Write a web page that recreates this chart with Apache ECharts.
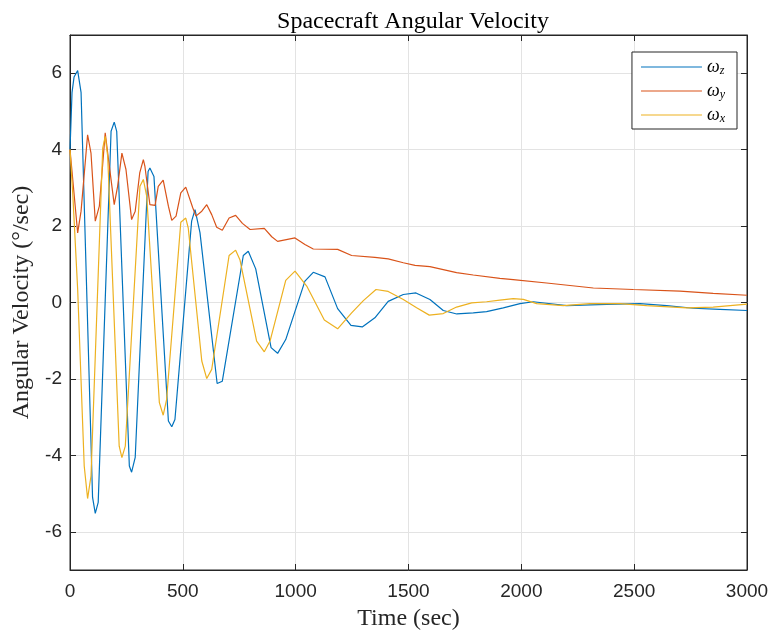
<!DOCTYPE html>
<html>
<head>
<meta charset="utf-8">
<script src="https://cdn.jsdelivr.net/npm/echarts@6/dist/echarts.min.js"></script>
<style>
  html, body { margin: 0; padding: 0; background: #fff; }
  #chart { width: 774px; height: 637px; }
</style>
</head>
<body>
<div id="chart"></div>
<script>
// time stamps (sec) and angular rates (deg/sec)
const timeZ = [0, 9, 18, 34, 49, 100, 112, 125, 182, 196, 207, 263, 273, 289, 346, 354, 372, 436, 451, 465, 539, 554, 576, 652, 675, 768, 790, 823, 891, 920, 956, 1041, 1078, 1130, 1186, 1245, 1295, 1351, 1410, 1477, 1533, 1595, 1654, 1714, 1787, 1846, 1920, 1994, 2053, 2201, 2378, 2526, 2644, 2762, 2880, 3000]
const omegaZ = [4.0, 5.5, 5.9, 6.07, 5.5, -5.1, -5.52, -5.23, 4.48, 4.72, 4.48, -4.28, -4.44, -4.05, 3.43, 3.52, 3.30, -3.10, -3.25, -3.06, 2.13, 2.43, 1.83, -2.12, -2.06, 1.23, 1.34, 0.88, -1.18, -1.33, -0.97, 0.56, 0.79, 0.67, -0.16, -0.60, -0.64, -0.40, 0.03, 0.21, 0.25, 0.08, -0.21, -0.30, -0.27, -0.24, -0.14, -0.03, 0.02, -0.08, -0.05, -0.03, -0.08, -0.15, -0.18, -0.21]

const timeY = [0, 34, 49, 78, 93, 112, 130, 156, 167, 196, 211, 230, 248, 273, 289, 309, 325, 332, 354, 377, 391, 413, 436, 451, 470, 491, 513, 544, 558, 584, 606, 628, 650, 675, 705, 734, 764, 798, 861, 894, 920, 997, 1041, 1078, 1186, 1248, 1351, 1410, 1477, 1529, 1595, 1713, 1787, 1905, 1964, 2112, 2319, 2496, 2703, 2850, 3000]
const omegaY = [4.0, 1.82, 2.39, 4.39, 3.91, 2.13, 2.52, 4.44, 3.91, 2.56, 3.04, 3.91, 3.48, 2.17, 2.39, 3.39, 3.74, 3.56, 2.56, 2.54, 3.04, 3.20, 2.52, 2.15, 2.26, 2.87, 3.02, 2.48, 2.26, 2.39, 2.56, 2.30, 1.97, 1.89, 2.21, 2.28, 2.07, 1.91, 1.94, 1.72, 1.60, 1.69, 1.52, 1.40, 1.39, 1.23, 1.18, 1.14, 1.04, 0.97, 0.94, 0.78, 0.72, 0.63, 0.60, 0.51, 0.38, 0.34, 0.30, 0.24, 0.19]

const timeX = [0, 12, 34, 63, 78, 93, 145, 156, 167, 218, 230, 245, 310, 325, 340, 396, 413, 428, 491, 513, 524, 584, 606, 628, 705, 734, 753, 827, 861, 887, 956, 997, 1049, 1127, 1186, 1248, 1300, 1356, 1410, 1477, 1536, 1592, 1654, 1713, 1780, 1846, 1905, 1964, 2009, 2068, 2186, 2304, 2437, 2555, 2733, 2850, 3000]
const omegaX = [4.0, 2.87, 0.34, -4.28, -5.13, -4.54, 4.04, 4.35, 3.83, -3.76, -4.06, -3.76, 3.04, 3.22, 2.78, -2.62, -2.95, -2.54, 2.10, 2.21, 1.95, -1.53, -1.99, -1.75, 1.23, 1.37, 1.12, -1.01, -1.29, -1.0, 0.58, 0.82, 0.43, -0.46, -0.69, -0.27, 0.05, 0.34, 0.29, 0.08, -0.14, -0.33, -0.29, -0.12, -0.01, 0.02, 0.06, 0.10, 0.08, -0.03, -0.08, -0.03, -0.03, -0.08, -0.14, -0.12, -0.04]

const seriesNames = ['ωz', 'ωy', 'ωx']
const yTicks = [-6, -4, -2, 0, 2, 4, 6]

const chart = echarts.init(document.getElementById('chart'))

function pairs (t, v) {
  return t.map((x, i) => [x, v[i]])
}

const axisColor = '#262626'
const gridColor = '#e3e3e3'
const serif = 'Liberation Serif'
const sans = 'Liberation Sans'

function lineSeries (name, t, v, color) {
  return {
    name: name,
    type: 'line',
    data: pairs(t, v),
    symbol: 'none',
    smooth: false,
    animation: false,
    lineStyle: { color: color, width: 1.2 },
    itemStyle: { color: color }
  }
}

// shared style for the four sides of the box
function boxAxis (extra) {
  return Object.assign({
    type: 'value',
    axisLine: { show: true, onZero: false, lineStyle: { color: axisColor } },
    axisTick: { show: true, inside: true, length: 6, lineStyle: { color: axisColor } },
    splitLine: { show: false }
  }, extra)
}

chart.setOption({
  animation: false,
  backgroundColor: '#fff',
  color: ['#0072BD', '#D95319', '#EDB120'],
  title: {
    text: 'Spacecraft Angular Velocity',
    left: 408,
    top: 5,
    textAlign: 'center',
    textStyle: {
      fontFamily: serif,
      fontWeight: 'normal',
      fontSize: 24,
      color: '#000'
    }
  },
  legend: {
    orient: 'vertical',
    right: 37,
    top: 52,
    icon: 'rect',
    itemWidth: 61,
    itemHeight: 1.2,
    itemGap: 5,
    padding: [6, 12, 4, 9],
    backgroundColor: '#fff',
    borderColor: axisColor,
    borderWidth: 1,
    borderRadius: 0,
    data: seriesNames,
    formatter: function (name) {
      return '{w|ω}{s|' + name.slice(1) + '}'
    },
    textStyle: {
      rich: {
        w: { fontFamily: serif, fontStyle: 'italic', fontSize: 18, color: '#000' },
        s: { fontFamily: serif, fontStyle: 'italic', fontSize: 12, color: '#000', padding: [8, 0, 0, 0] }
      }
    }
  },
  grid: {
    left: 70,
    right: 27,
    top: 35,
    bottom: 67,
    show: true,
    borderColor: axisColor,
    borderWidth: 1
  },
  xAxis: [boxAxis({
    min: 0,
    max: 3000,
    interval: 500,
    name: 'Time (sec)',
    nameLocation: 'middle',
    nameGap: 37,
    nameTextStyle: { fontFamily: serif, fontSize: 24, color: axisColor },
    axisLabel: { fontFamily: sans, fontSize: 19, color: axisColor, margin: 12, formatter: v => String(v) },
    splitLine: { show: true, lineStyle: { color: gridColor } }
  }), boxAxis({
    position: 'top',
    min: 0,
    max: 3000,
    interval: 500,
    axisLabel: { show: false }
  })],
  yAxis: [boxAxis({
    min: -7,
    max: 7,
    name: 'Angular Velocity (°/sec)',
    nameLocation: 'middle',
    nameGap: 36,
    nameTextStyle: { fontFamily: serif, fontSize: 24, color: axisColor },
    axisTick: { show: true, inside: true, length: 6, customValues: yTicks, lineStyle: { color: axisColor } },
    axisLabel: { fontFamily: sans, fontSize: 19, color: axisColor, margin: 8, customValues: yTicks, formatter: v => String(v) },
    splitLine: { show: true, lineStyle: { color: gridColor } }
  }), boxAxis({
    position: 'right',
    min: -7,
    max: 7,
    axisTick: { show: true, inside: true, length: 6, customValues: yTicks, lineStyle: { color: axisColor } },
    axisLabel: { show: false, customValues: yTicks }
  })],
  series: [
    lineSeries(seriesNames[0], timeZ, omegaZ, '#0072BD'),
    lineSeries(seriesNames[1], timeY, omegaY, '#D95319'),
    lineSeries(seriesNames[2], timeX, omegaX, '#EDB120')
  ]
})
</script>
</body>
</html>
